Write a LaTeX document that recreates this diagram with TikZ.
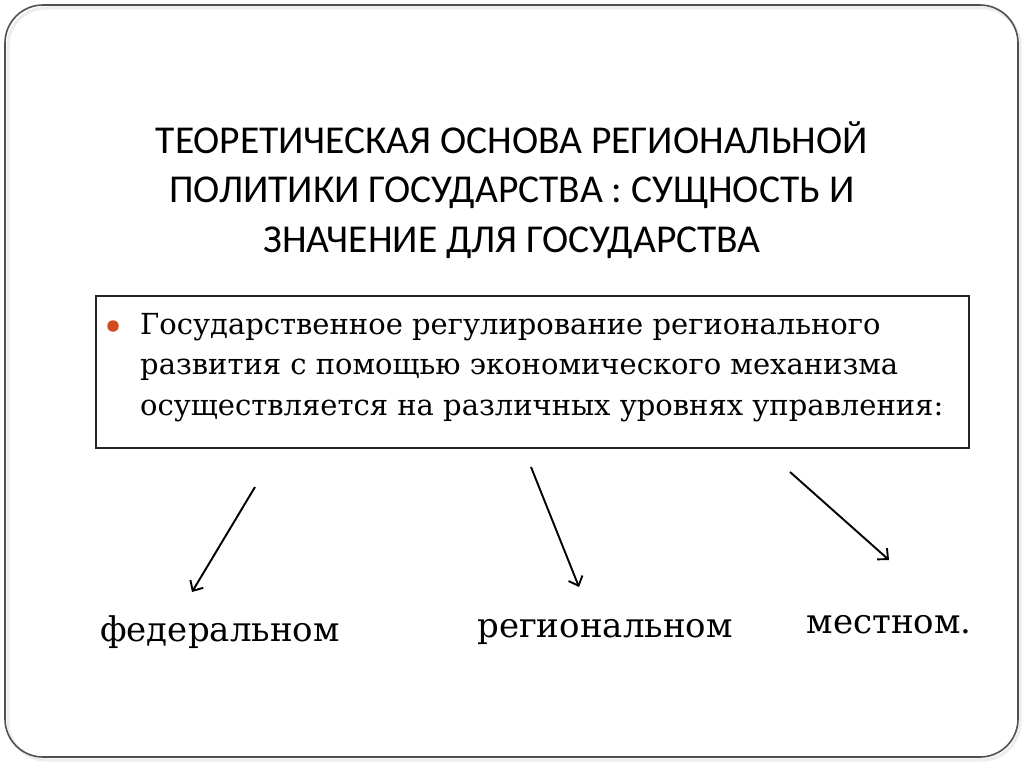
\documentclass[tikz,border=0pt]{standalone}
\usepackage{fontspec}
\setmainfont{DejaVu Serif}
\newfontfamily\titlefont{Carlito}
\usetikzlibrary{arrows.meta}
\definecolor{bulletorange}{HTML}{D24A1E}
\definecolor{framegray}{HTML}{505050}
\tikzset{
  frame/.style={draw=framegray, line width=1.6pt, rounded corners=38pt},
  shadowframe/.style={draw=black!7, line width=3pt, rounded corners=38pt},
  titletext/.style={font=\titlefont\fontsize{39.5}{49.5}\selectfont, align=center, text=black},
  boxtext/.style={font=\fontsize{29}{40.5}\selectfont, align=left, anchor=north west, inner sep=0pt},
  textbox/.style={draw=black!85, line width=1.6pt},
  level/.style={font=\fontsize{34}{40}\selectfont, anchor=base},
  pointer/.style={line width=1.9pt, -{Straight Barb[length=8pt,width=15pt,line width=1.9pt]}},
  bullet/.style={circle, fill=bulletorange, inner sep=0pt, minimum size=11.5pt},
}
\begin{document}
\begin{tikzpicture}[x=1pt,y=-1pt]
\useasboundingbox (0,0) rectangle (1024,767);
\fill[white] (0,0) rectangle (1024,767);
\draw[shadowframe] (8,8) rectangle (1020,760);
\draw[frame] (5,5) rectangle (1018,757);
\node[titletext] (title) at (512,190) {ТЕОРЕТИЧЕСКАЯ ОСНОВА РЕГИОНАЛЬНОЙ\\ПОЛИТИКИ ГОСУДАРСТВА : СУЩНОСТЬ И\\ЗНАЧЕНИЕ ДЛЯ ГОСУДАРСТВА};
\node[textbox, minimum width=873pt, minimum height=152pt, anchor=north west] (box) at (95,295) {};
\node[bullet] (dot) at (113,326) {};
\node[boxtext] (boxtxt) at (140,313) {Государственное регулирование регионального\\развития с помощью экономического механизма\\осуществляется на различных уровнях управления:};
\node[level] (fed) at (220,641) {федеральном};
\node[level] (reg) at (605,637) {региональном};
\node[level] (loc) at (889,633) {местном.};
\coordinate (s1) at (255,487);
\coordinate (e1) at (192,592);
\coordinate (s2) at (531,467);
\coordinate (e2) at (579,587);
\coordinate (s3) at (790,472);
\coordinate (e3) at (889,560);
\draw[pointer] (s1) -- (e1);
\draw[pointer] (s2) -- (e2);
\draw[pointer] (s3) -- (e3);
\end{tikzpicture}
\end{document}
